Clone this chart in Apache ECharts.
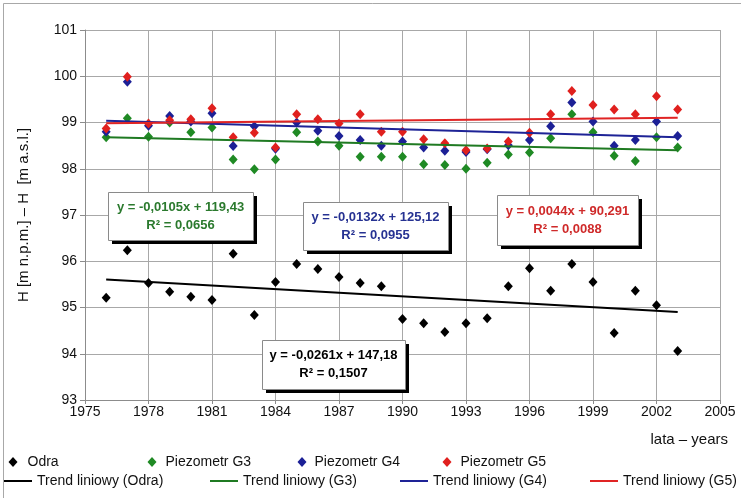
<!DOCTYPE html>
<html>
<head>
<meta charset="utf-8">
<script src="https://cdn.jsdelivr.net/npm/echarts@6/dist/echarts.min.js"></script>
<style>
  html, body { margin: 0; padding: 0; background: #fff; }
  #chart { width: 742px; height: 499px; }
</style>
</head>
<body>
<div id="chart"></div>
<script>
// Yearly water levels, H [m a.s.l.]
const years = [1976, 1977, 1978, 1979, 1980, 1981, 1982, 1983, 1984, 1985,
               1986, 1987, 1988, 1989, 1990, 1991, 1992, 1993, 1994, 1995,
               1996, 1997, 1998, 1999, 2000, 2001, 2002, 2003];
const odra = [95.21, 96.24, 95.53, 95.34, 95.23, 95.16, 96.16, 94.84, 95.55, 95.94,
              95.83, 95.66, 95.53, 95.46, 94.75, 94.66, 94.47, 94.66, 94.77, 95.46,
              95.85, 95.36, 95.94, 95.55, 94.45, 95.36, 95.05, 94.06];
const g3 = [98.68, 99.09, 98.69, 99.00, 98.79, 98.89, 98.20, 97.99, 98.20, 98.79,
            98.59, 98.50, 98.26, 98.26, 98.26, 98.10, 98.08, 98.00, 98.13, 98.31,
            98.35, 98.66, 99.18, 98.79, 98.28, 98.17, 98.68, 98.46];
const g4 = [98.80, 99.88, 98.93, 99.14, 99.02, 99.20, 98.49, 98.92, 98.43, 99.00,
            98.82, 98.71, 98.62, 98.50, 98.59, 98.46, 98.39, 98.36, 98.42, 98.51,
            98.62, 98.92, 99.43, 99.02, 98.50, 98.62, 99.02, 98.71];
const g5 = [98.87, 99.99, 98.98, 99.05, 99.07, 99.31, 98.68, 98.78, 98.46, 99.18,
            99.07, 98.98, 99.18, 98.80, 98.80, 98.64, 98.55, 98.40, 98.44, 98.59,
            98.78, 99.18, 99.68, 99.38, 99.28, 99.18, 99.57, 99.28];

// Linear trend parameters (order: Odra, G3, G4, G5)
const trendSlope = [-0.0261, -0.0105, -0.0132, 0.0044];
const trendIntercept = [147.18, 119.43, 125.12, 90.291];
const trendR2 = [0.1507, 0.0656, 0.0955, 0.0088];

// Axis ticks
const xTicks = [1975, 1978, 1981, 1984, 1987, 1990, 1993, 1996, 1999, 2002, 2005];
const yTicks = [93, 94, 95, 96, 97, 98, 99, 100, 101];

const pointNames = ['Odra', 'Piezometr G3', 'Piezometr G4', 'Piezometr G5'];
const trendNames = ['Trend liniowy (Odra)', 'Trend liniowy (G3)', 'Trend liniowy (G4)', 'Trend liniowy (G5)'];

const FONT = '"Liberation Sans", Arial, sans-serif';
const markerColors = ['#000000', '#1f8a24', '#1c2096', '#e0201e'];
const lineColors = ['#000000', '#1f7a22', '#1e2396', '#e02424'];
const eqColors = ['#000000', '#2b7a2e', '#263292', '#cf2a2a'];

const pointSets = [odra, g3, g4, g5];

const fmt = v => String(v).replace('.', ',');
const equationText = i => {
  const a = trendSlope[i], b = trendIntercept[i];
  return 'y = ' + fmt(a) + 'x ' + (b >= 0 ? '+ ' : '- ') + fmt(Math.abs(b));
};

const chart = echarts.init(document.getElementById('chart'), null, { renderer: 'canvas' });

const series = [];
pointSets.forEach((vals, i) => {
  series.push({
    name: pointNames[i],
    type: 'scatter',
    symbol: 'diamond',
    symbolSize: [9, 10],
    itemStyle: { color: markerColors[i], opacity: 1 },
    data: years.map((y, k) => [y, vals[k]]),
    z: 3
  });
});
trendSlope.forEach((a, i) => {
  const x0 = years[0], x1 = years[years.length - 1];
  series.push({
    name: trendNames[i],
    type: 'line',
    showSymbol: false,
    symbol: 'none',
    lineStyle: { color: lineColors[i], width: 2 },
    itemStyle: { color: lineColors[i] },
    data: [[x0, a * x0 + trendIntercept[i]], [x1, a * x1 + trendIntercept[i]]],
    z: 4
  });
});

// Legend entries, one small legend per entry so each sits in its own slot
const legendSlots = [
  { name: pointNames[0], left: 8.5, top: 455, marker: true, pad: 5 },
  { name: pointNames[1], left: 147.5, top: 455, marker: true, pad: 4 },
  { name: pointNames[2], left: 297.5, top: 455, marker: true, pad: 3 },
  { name: pointNames[3], left: 442.5, top: 455, marker: true, pad: 4 },
  { name: trendNames[0], left: 4, top: 474, marker: false },
  { name: trendNames[1], left: 210, top: 474, marker: false },
  { name: trendNames[2], left: 400, top: 474, marker: false },
  { name: trendNames[3], left: 590, top: 474, marker: false }
];
const legends = legendSlots.map(s => ({
  data: [s.name],
  left: s.left,
  top: s.top,
  padding: 0,
  orient: 'horizontal',
  icon: s.marker ? 'diamond' : 'rect',
  itemWidth: s.marker ? 9 : 28,
  itemHeight: s.marker ? 10 : 2,
  selectedMode: false,
  textStyle: {
    fontFamily: FONT, fontSize: 14, color: '#111',
    padding: [0, 0, 0, s.marker ? s.pad : 0]
  }
}));

// Equation boxes
const boxes = [
  { i: 1, x: 108, y: 192, w: 145, h: 48 },
  { i: 2, x: 303, y: 202, w: 145, h: 48 },
  { i: 3, x: 497, y: 195, w: 141, h: 50 },
  { i: 0, x: 262, y: 340, w: 143, h: 49 }
];
const graphics = [];
boxes.forEach(b => {
  graphics.push({
    type: 'rect', z: 10,
    shape: { x: b.x + 4, y: b.y + 4, width: b.w, height: b.h },
    style: { fill: '#000' }
  });
  graphics.push({
    type: 'rect', z: 11,
    shape: { x: b.x + 0.5, y: b.y + 0.5, width: b.w, height: b.h },
    style: { fill: '#fff', stroke: '#8a8a8a', lineWidth: 1 }
  });
  graphics.push({
    type: 'text', z: 12,
    x: b.x + b.w / 2, y: b.y + b.h / 2,
    style: {
      text: equationText(b.i) + '\nR\u00b2 = ' + fmt(trendR2[b.i]),
      fill: eqColors[b.i],
      font: 'bold 13px ' + FONT,
      align: 'center',
      verticalAlign: 'middle',
      lineHeight: 18
    }
  });
});
// x axis caption
graphics.push({
  type: 'text', z: 12,
  right: 14, top: 432,
  style: { text: 'lata \u2013 years', fill: '#111', font: '15px ' + FONT }
});
// frame lines
graphics.push({
  type: 'polyline', z: 1,
  shape: { points: [[3.5, 498], [3.5, 3.5], [741, 3.5]] },
  style: { stroke: '#a8a8a8', lineWidth: 1, fill: null }
});

const option = {
  backgroundColor: '#fff',
  animation: false,
  grid: { left: 85, right: 22, top: 30, bottom: 99, containLabel: false },
  xAxis: {
    type: 'value',
    min: xTicks[0],
    max: xTicks[xTicks.length - 1],
    interval: xTicks[1] - xTicks[0],
    axisLine: { show: true, lineStyle: { color: '#8c8c8c', width: 1 } },
    axisTick: { show: true, length: 4, lineStyle: { color: '#8c8c8c' } },
    axisLabel: {
      color: '#111', fontFamily: FONT, fontSize: 14, margin: 5,
      showMinLabel: true, showMaxLabel: true,
      formatter: v => String(v)
    },
    splitLine: { show: true, lineStyle: { color: '#a8a8a8', width: 1 } }
  },
  yAxis: {
    type: 'value',
    min: yTicks[0],
    max: yTicks[yTicks.length - 1],
    interval: yTicks[1] - yTicks[0],
    name: 'H [m n.p.m.] \u2013 H  [m a.s.l.]',
    nameLocation: 'middle',
    nameGap: 54,
    nameRotate: 90,
    nameTextStyle: { color: '#111', fontFamily: FONT, fontSize: 15 },
    axisLine: { show: true, lineStyle: { color: '#8c8c8c', width: 1 } },
    axisTick: { show: true, length: 5, lineStyle: { color: '#8c8c8c' } },
    axisLabel: { color: '#111', fontFamily: FONT, fontSize: 14, margin: 8, formatter: v => String(v) },
    splitLine: { show: true, lineStyle: { color: '#a8a8a8', width: 1 } }
  },
  legend: legends,
  series: series,
  graphic: graphics
};
chart.setOption(option);
</script>
</body>
</html>
